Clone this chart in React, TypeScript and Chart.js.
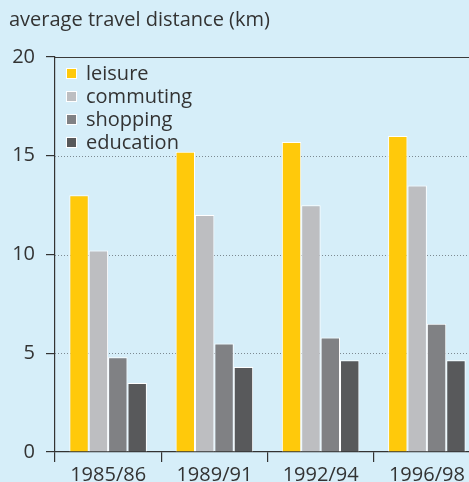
import React, { useEffect, useRef } from "react";
import { Chart, registerables } from "chart.js";
Chart.register(...registerables);

const categories = ["1985/86", "1989/91", "1992/94", "1996/98"];
const seriesLabels = ["leisure", "commuting", "shopping", "education"];
const leisure = [13, 15.2, 15.7, 16];
const commuting = [10.2, 12, 12.5, 13.5];
const shopping = [4.8, 5.5, 5.8, 6.5];
const education = [3.5, 4.3, 4.65, 4.65];
const seriesColors = ["#ffc90b", "#bdbec1", "#808184", "#58595b"];
const titleText = "average travel distance (km)";
const yMin = 0;
const yMax = 20;
const yStep = 5;

const FONT = "'Open Sans', sans-serif";
const TEXT = "#333333";

const customPlugin = {
  id: "custom",
  beforeDatasetsDraw(chart: any) {
    const { ctx, chartArea } = chart;
    const y = chart.scales.y;
    ctx.save();
    y.ticks.forEach((t: any) => {
      if (t.value === yMin) return;
      const py = Math.round(y.getPixelForValue(t.value)) + 0.5;
      ctx.beginPath();
      if (t.value === yMax) {
        ctx.setLineDash([]);
        ctx.strokeStyle = "#3a3a3a";
      } else {
        ctx.setLineDash([1, 2]);
        ctx.strokeStyle = "#7d8a92";
      }
      ctx.lineWidth = 1;
      ctx.moveTo(chartArea.left, py);
      ctx.lineTo(chartArea.right, py);
      ctx.stroke();
    });
    ctx.restore();
  },
  afterDraw(chart: any) {
    const { ctx, chartArea } = chart;
    ctx.save();
    ctx.fillStyle = TEXT;
    ctx.font = `20px ${FONT}`;
    ctx.textBaseline = "middle";
    ctx.textAlign = "left";
    ctx.fillText(titleText, 9, 20);
    chart.data.datasets.forEach((ds: any, i: number) => {
      const bx = chartArea.left + 11;
      const by = chartArea.top + 11 + i * 23;
      ctx.fillStyle = ds.backgroundColor;
      ctx.fillRect(bx, by, 11, 11);
      ctx.strokeStyle = "#ffffff";
      ctx.lineWidth = 1;
      ctx.strokeRect(bx + 0.5, by + 0.5, 10, 10);
      ctx.fillStyle = TEXT;
      ctx.font = `20px ${FONT}`;
      ctx.fillText(ds.label, chartArea.left + 31, by + 6);
    });
    ctx.restore();
  },
};

export default function App() {
  const ref = useRef<HTMLCanvasElement>(null);
  useEffect(() => {
    const values = [leisure, commuting, shopping, education];
    const chart = new Chart(ref.current!, {
      type: "bar",
      data: {
        labels: categories,
        datasets: seriesLabels.map((label, i) => ({
          label,
          data: values[i],
          backgroundColor: seriesColors[i],
          borderColor: "#ffffff",
          borderWidth: 1,
          categoryPercentage: 0.73,
          barPercentage: 1,
        })),
      },
      options: {
        animation: false,
        responsive: false,
        maintainAspectRatio: false,
        layout: { padding: { top: 57, left: 0, right: 10, bottom: 0 } },
        plugins: { legend: { display: false }, title: { display: false }, tooltip: { enabled: false } },
        scales: {
          x: {
            grid: { display: true, drawOnChartArea: false, offset: true, tickLength: 10, color: "#333333", lineWidth: 1.2 },
            border: { display: true, color: "#333333", width: 1.2 },
            ticks: { font: { family: FONT, size: 20 }, color: TEXT, padding: 1 },
            afterFit: (s: any) => { s.height = 30; },
          },
          y: {
            min: yMin,
            max: yMax,
            grid: { display: true, drawOnChartArea: false, tickLength: 9, color: "#333333", lineWidth: 1.2 },
            border: { display: true, color: "#333333", width: 1.2 },
            ticks: { stepSize: yStep, font: { family: FONT, size: 20 }, color: TEXT, padding: 11 },
            afterFit: (s: any) => { s.width = 55; },
          },
        },
      },
      plugins: [customPlugin],
    });
    return () => chart.destroy();
  }, []);
  return (
    <div style={{ position: "fixed", left: 0, top: 0, width: 469, height: 482, overflow: "hidden", background: "#d6eef9" }}>
      <canvas ref={ref} width={490} height={482} style={{ width: 490, height: 482, display: "block" }} />
    </div>
  );
}
